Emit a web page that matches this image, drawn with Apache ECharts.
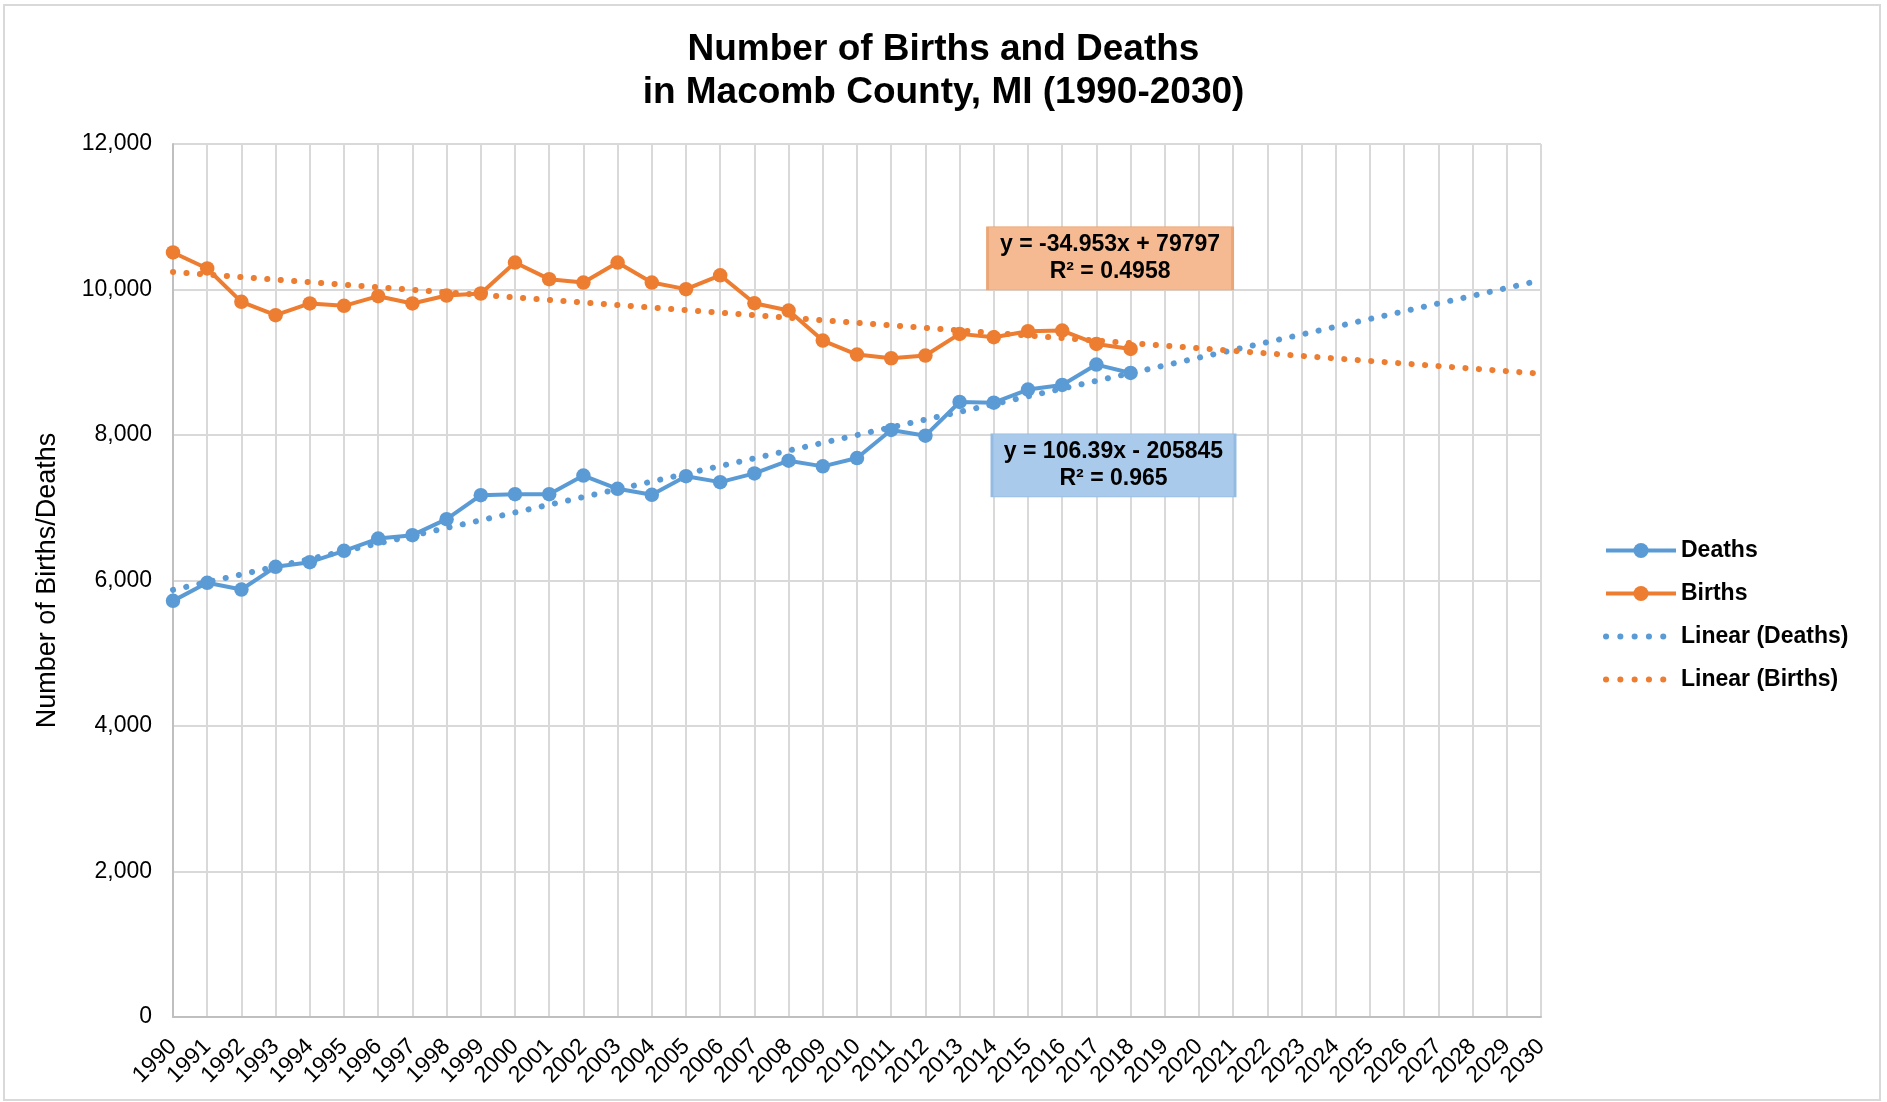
<!DOCTYPE html>
<html>
<head>
<meta charset="utf-8">
<script src="https://cdn.jsdelivr.net/npm/echarts@6/dist/echarts.min.js"></script>
<style>
html,body{margin:0;padding:0;background:#fff;}
#chart{width:1887px;height:1102px;}
</style>
</head>
<body>
<div id="chart"></div>
<script>
// ---- data ----
const years = [1990,1991,1992,1993,1994,1995,1996,1997,1998,1999,2000,2001,2002,2003,2004,2005,2006,2007,2008,2009,2010,2011,2012,2013,2014,2015,2016,2017,2018];
const deaths = [5720,5968,5876,6188,6252,6408,6577,6623,6843,7173,7187,7187,7443,7260,7178,7434,7352,7472,7647,7569,7683,8069,7991,8454,8445,8624,8688,8968,8853];
const births = [10509,10289,9830,9647,9808,9775,9908,9808,9917,9945,10371,10142,10096,10371,10096,10005,10195,9812,9711,9298,9106,9055,9092,9390,9344,9427,9436,9252,9183];
// trendline end points (1990 and 2030)
const trendYears = [1990, 2030];
const deathsTrend = [5871, 10127];
const birthsTrend = [10240, 8842];
const deathsEq = 'y = 106.39x - 205845\nR² = 0.965';
const birthsEq = 'y = -34.953x + 79797\nR² = 0.4958';
const yTicks = [0, 2000, 4000, 6000, 8000, 10000, 12000];

const BLUE = '#5B9BD5', ORANGE = '#ED7D31';
const FONT = '"Liberation Sans", Arial, sans-serif';
const DOTS = [0.1, 13.4];
const LEGEND_DOTS = [0.1, 14.2];

const pairs = (xs, ys) => xs.map((x, i) => [x, ys[i]]);

const chart = echarts.init(document.getElementById('chart'));
chart.setOption({
  backgroundColor: '#fff',
  animation: false,
  textStyle: { fontFamily: FONT },
  title: {
    text: 'Number of Births and Deaths\nin Macomb County, MI (1990-2030)',
    left: 'center', top: 23,
    textStyle: { fontFamily: FONT, fontSize: 37, fontWeight: 'bold', color: '#000', lineHeight: 43, align: 'center' }
  },
  graphic: [{
    type: 'rect', silent: true, z: -10,
    shape: { x: 4, y: 5, width: 1876, height: 1095 },
    style: { fill: 'none', stroke: '#D9D9D9', lineWidth: 2 }
  }],
  legend: {
    orient: 'vertical',
    left: 1598, top: 534,
    itemWidth: 70, itemHeight: 19, itemGap: 20,
    textStyle: { fontFamily: FONT, fontSize: 23, fontWeight: 'bold', color: '#000' },
    data: [
      { name: 'Deaths', lineStyle: { width: 4 } },
      { name: 'Births', lineStyle: { width: 4 } },
      { name: 'Linear (Deaths)', itemStyle: { opacity: 0 }, lineStyle: { width: 6, type: LEGEND_DOTS, cap: 'round' } },
      { name: 'Linear (Births)', itemStyle: { opacity: 0 }, lineStyle: { width: 6, type: LEGEND_DOTS, cap: 'round' } }
    ]
  },
  grid: { left: 173, right: 346, top: 144, bottom: 85, containLabel: false },
  xAxis: {
    type: 'value', min: 1990, max: 2030, interval: 1,
    axisLine: { show: true, lineStyle: { color: '#BFBFBF', width: 2 } },
    axisTick: { show: false },
    splitLine: { show: true, lineStyle: { color: '#D9D9D9', width: 2 } },
    axisLabel: { rotate: 45, margin: 26, fontSize: 23, color: '#000', fontFamily: FONT, formatter: v => String(v) }
  },
  yAxis: {
    type: 'value', min: yTicks[0], max: yTicks[yTicks.length - 1], interval: 2000,
    name: 'Number of Births/Deaths', nameLocation: 'middle', nameGap: 112,
    nameTextStyle: { fontFamily: FONT, fontSize: 27, color: '#000' },
    axisLine: { show: true, lineStyle: { color: '#BFBFBF', width: 2 } },
    axisTick: { show: false },
    splitLine: { show: true, lineStyle: { color: '#D9D9D9', width: 2 } },
    axisLabel: { margin: 21, fontSize: 23, color: '#000', fontFamily: FONT,
      formatter: v => v.toLocaleString('en-US') }
  },
  series: [
    {
      name: 'Deaths', type: 'line', data: pairs(years, deaths),
      symbol: 'circle', symbolSize: 14.5, showAllSymbol: true,
      lineStyle: { color: BLUE, width: 4 }, itemStyle: { color: BLUE }, z: 3
    },
    {
      name: 'Births', type: 'line', data: pairs(years, births),
      symbol: 'circle', symbolSize: 14.5, showAllSymbol: true,
      lineStyle: { color: ORANGE, width: 4 }, itemStyle: { color: ORANGE }, z: 3
    },
    {
      name: 'Linear (Deaths)', type: 'line', data: pairs(trendYears, deathsTrend),
      symbol: 'none', z: 4,
      lineStyle: { color: BLUE, width: 6, type: DOTS, cap: 'round' },
      itemStyle: { color: BLUE },
      markPoint: {
        silent: true, z: 6,
        symbol: 'rect', symbolSize: [243, 63],
        itemStyle: { color: '#A9CAEB', borderColor: '#94BBE2', borderWidth: 1.5 },
        label: { show: true, position: 'inside', formatter: deathsEq, fontFamily: FONT,
          fontSize: 23, fontWeight: 'bold', color: '#000', lineHeight: 27, align: 'center' },
        data: [{ coord: [2017.5, 7582] }]
      }
    },
    {
      name: 'Linear (Births)', type: 'line', data: pairs(trendYears, birthsTrend),
      symbol: 'none', z: 4,
      lineStyle: { color: ORANGE, width: 6, type: DOTS, cap: 'round' },
      itemStyle: { color: ORANGE },
      markPoint: {
        silent: true, z: 6,
        symbol: 'rect', symbolSize: [245, 63],
        itemStyle: { color: '#F5BA91', borderColor: '#EAA676', borderWidth: 1.5 },
        label: { show: true, position: 'inside', formatter: birthsEq, fontFamily: FONT,
          fontSize: 23, fontWeight: 'bold', color: '#000', lineHeight: 27, align: 'center' },
        data: [{ coord: [2017.4, 10429] }]
      }
    }
  ]
});
</script>
</body>
</html>
